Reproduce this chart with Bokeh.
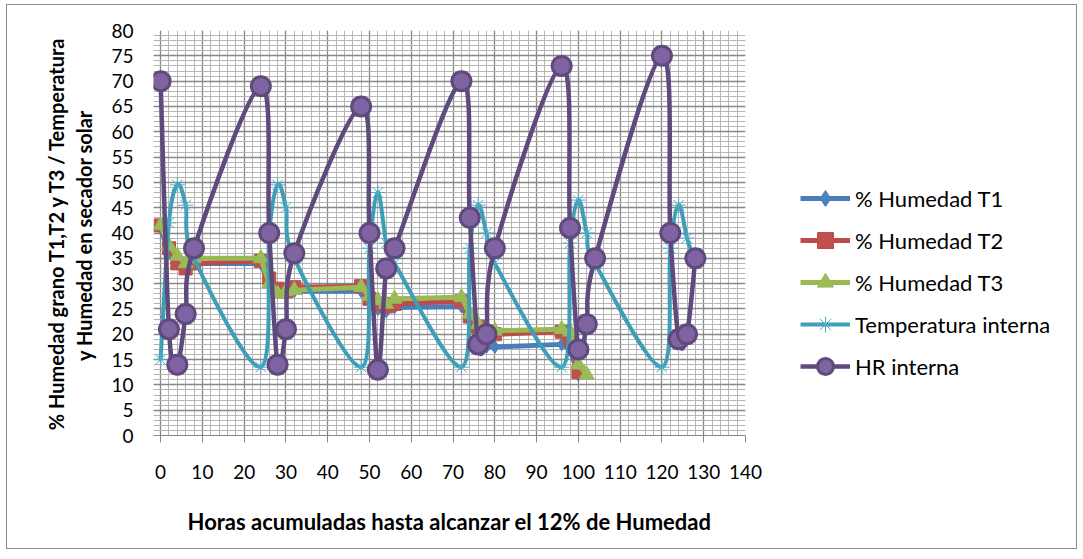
from bokeh.plotting import figure
from bokeh.layouts import row
from bokeh.models import (ColumnDataSource, SingleIntervalTicker, Legend, LegendItem, Range1d)
from bokeh.embed import file_html
from bokeh.resources import INLINE

# ---------------- data ----------------
hours_hr = [0, 2, 4, 6, 8, 24, 26, 28, 30, 32, 48, 50, 52, 54, 56, 72, 74, 76, 78, 80,
            96, 98, 100, 102, 104, 120, 122, 124, 126, 128]
hr_interna = [70, 21, 14, 24, 37, 69, 40, 14, 21, 36, 65, 40, 13, 33, 37, 70, 43, 18, 20, 37,
              73, 41, 17, 22, 35, 75, 40, 19, 20, 35]
temp_interna = [15, 42, 49.5, 45.5, 35, 13.5, 40, 49.5, 45, 35, 13.5, 37, 48, 38, 34, 13.5, 37, 45.5, 40, 34,
                13.5, 38, 46.5, 40, 34, 13.5, 37, 45.5, 39, 34]

hours_t12 = [0, 2, 4, 6, 8, 24, 26, 28, 30, 32, 48, 50, 52, 54, 56, 72, 74, 76, 78, 80, 96, 98, 100]
hum_t1 = [41, 36, 34, 33.5, 34, 34, 30, 28.5, 28, 28.5, 28.5, 26.5, 25, 24.5, 25.3, 25.5, 23, 18, 17.5, 17.5,
          18, 17, 12]
hum_t2 = [41.5, 37, 34, 33, 34, 34.5, 31, 29, 28.5, 29.3, 29.5, 27, 26, 25.5, 26, 26.5, 23.5, 21.5, 20.5, 20,
          20.5, 19, 12.5]
hours_t3 = [0, 2, 4, 6, 8, 24, 26, 28, 30, 32, 48, 50, 52, 54, 56, 72, 74, 76, 78, 80, 96, 98, 100, 102]
hum_t3 = [41.5, 37.5, 35.5, 34, 35, 35, 30, 28, 28.5, 28.7, 29.3, 27.5, 26.7, 26, 27, 27.3, 24, 22, 20.5, 20.7,
          21, 20.5, 14, 12]

series_names = ["% Humedad T1", "% Humedad T2", "% Humedad T3", "Temperatura interna", "HR interna"]
x_title = "Horas acumuladas hasta alcanzar el 12% de Humedad"
y_title_1 = "% Humedad grano T1,T2 y T3 / Temperatura"
y_title_2 = "y  Humedad en secador solar"

FONT = "Lato"
OX, OY = 7, 5                      # canvas origin inside the bordered box (page px)
W_ALL, H = 1069, 543
W_MAIN = 767 - OX                  # main chart canvas width
W_LEG = W_ALL - W_MAIN             # legend canvas width
FL, FR, FT, FB = 153 - OX, 745 - OX, 30 - OY, 435 - OY   # frame edges in canvas px


def smooth_source(xs, ys):
    """Bezier segments (Excel-like smoothed line) built from the data points."""
    n = len(xs)
    d = dict(x0=[], y0=[], x1=[], y1=[], cx0=[], cy0=[], cx1=[], cy1=[])
    for i in range(n - 1):
        xp, yp = (xs[i - 1], ys[i - 1]) if i > 0 else (xs[i], ys[i])
        xn, yn = (xs[i + 2], ys[i + 2]) if i + 2 < n else (xs[i + 1], ys[i + 1])
        d["x0"].append(xs[i]); d["y0"].append(ys[i])
        d["x1"].append(xs[i + 1]); d["y1"].append(ys[i + 1])
        d["cx0"].append(xs[i] + (xs[i + 1] - xp) / 6.0)
        d["cy0"].append(ys[i] + (ys[i + 1] - yp) / 6.0)
        d["cx1"].append(xs[i + 1] - (xn - xs[i]) / 6.0)
        d["cy1"].append(ys[i + 1] - (yn - ys[i]) / 6.0)
    return ColumnDataSource(d)


p = figure(width=W_MAIN, height=H, x_range=Range1d(-1.7, 140), y_range=Range1d(0, 80),
           output_backend="svg", toolbar_location=None,
           min_border_left=FL, min_border_right=W_MAIN - FR, min_border_top=FT, min_border_bottom=H - FB)
p.outline_line_color = None
p.background_fill_color = "white"
p.border_fill_color = "white"

xt = SingleIntervalTicker(interval=10, num_minor_ticks=5)
yt = SingleIntervalTicker(interval=5, num_minor_ticks=5)
p.xaxis.ticker = xt
p.yaxis.ticker = yt
p.xgrid.ticker = xt
p.ygrid.ticker = yt
for g in (p.xgrid, p.ygrid):
    g.grid_line_color = "#878787"
    g.grid_line_width = 1.3
    g.minor_grid_line_color = "#b5b5b5"
    g.minor_grid_line_width = 1

p.xaxis.axis_line_color = "#878787"
p.xaxis.major_tick_line_color = "#878787"
p.xaxis.major_tick_out = 7
p.xaxis.major_tick_in = 0
p.xaxis.minor_tick_out = 0
p.xaxis.minor_tick_in = 0
p.xaxis.major_label_standoff = 22
p.yaxis.axis_line_color = None
p.yaxis.major_tick_line_color = None
p.yaxis.minor_tick_line_color = None
p.yaxis.major_tick_out = 0
p.yaxis.major_label_standoff = 16
for ax in (p.xaxis, p.yaxis):
    ax.major_label_text_font = FONT
    ax.major_label_text_font_size = "19px"
    ax.major_label_text_color = "black"
    ax.axis_label_text_font = FONT
    ax.axis_label_text_font_style = "bold"
    ax.axis_label_text_color = "black"

p.xaxis.axis_label = x_title
p.xaxis.axis_label_text_font_size = "22px"
p.xaxis.axis_label_standoff = 26
p.yaxis.axis_label = y_title_1 + "\n" + y_title_2
p.yaxis.axis_label_text_font_size = "20px"
p.yaxis.axis_label_standoff = 12

# ---------------- series ----------------
blue_l, blue_m = "#4A7EBB", "#4F81BD"
red_l, red_m = "#BE4B48", "#C0504D"
green_l, green_m = "#98B954", "#9BBB59"
teal_l, teal_m = "#3E9EB8", "#4BACC6"
purp_l, purp_m = "#5E4A7C", "#8064A2"

styles = [
    dict(line=dict(line_color=blue_l, line_width=5),
         mark=dict(marker="diamond", size=13, fill_color=blue_m, line_color=blue_l)),
    dict(line=dict(line_color=red_l, line_width=5),
         mark=dict(marker="square", size=13, fill_color=red_m, line_color=red_l)),
    dict(line=dict(line_color=green_l, line_width=5),
         mark=dict(marker="triangle", size=15, fill_color=green_m, line_color=green_l)),
    dict(line=dict(line_color=teal_l, line_width=4),
         mark=dict(marker="asterisk", size=15, line_color=teal_m, line_width=1)),
    dict(line=dict(line_color=purp_l, line_width=4.5),
         mark=dict(marker="circle", size=19, fill_color=purp_m, line_color=purp_l, line_width=3)),
]

p.line(hours_t12, hum_t1, **styles[0]["line"])
p.scatter(hours_t12, hum_t1, **styles[0]["mark"])
p.line(hours_t12, hum_t2, **styles[1]["line"])
p.scatter(hours_t12, hum_t2, **styles[1]["mark"])
p.line(hours_t3, hum_t3, **styles[2]["line"])
p.scatter(hours_t3, hum_t3, **styles[2]["mark"])

p.bezier(x0="x0", y0="y0", x1="x1", y1="y1", cx0="cx0", cy0="cy0", cx1="cx1", cy1="cy1",
         source=smooth_source(hours_hr, temp_interna), **styles[3]["line"])
p.scatter(hours_hr, temp_interna, **styles[3]["mark"])

p.bezier(x0="x0", y0="y0", x1="x1", y1="y1", cx0="cx0", cy0="cy0", cx1="cx1", cy1="cy1",
         source=smooth_source(hours_hr, hr_interna), **styles[4]["line"])
p.scatter(hours_hr, hr_interna, **styles[4]["mark"])

# ---------------- legend panel ----------------
pl = figure(width=W_LEG, height=H, output_backend="svg", toolbar_location=None,
            x_range=Range1d(0, 1), y_range=Range1d(0, 1),
            min_border_left=0, min_border_right=0, min_border_top=FT, min_border_bottom=H - FB)
pl.axis.visible = False
pl.grid.visible = False
pl.outline_line_color = None
pl.background_fill_color = "white"
pl.border_fill_color = "white"

items = []
for name, st in zip(series_names, styles):
    # one off-range point per renderer, only so that the legend has a glyph to draw
    r_line = pl.line([-5, -4], [-5, -5], **st["line"])
    r_mark = pl.scatter([-5], [-5], **st["mark"])
    items.append(LegendItem(label=name, renderers=[r_line, r_mark]))

legend = Legend(items=items, location=(800 - (OX + W_MAIN), FB - (386 - OY)))
legend.glyph_width = 50
legend.glyph_height = 40
legend.label_height = 40
legend.spacing = 2
legend.padding = 0
legend.margin = 0
legend.label_standoff = 5
legend.border_line_color = None
legend.background_fill_alpha = 0
legend.label_text_font = FONT
legend.label_text_font_size = "22px"
legend.label_text_color = "black"
pl.add_layout(legend)

layout = row(p, pl, spacing=0,
             styles={"border": "1px solid #8a8a8a", "margin-left": "6px", "margin-top": "4px"})

open("out.html", "w").write(file_html(layout, INLINE))
